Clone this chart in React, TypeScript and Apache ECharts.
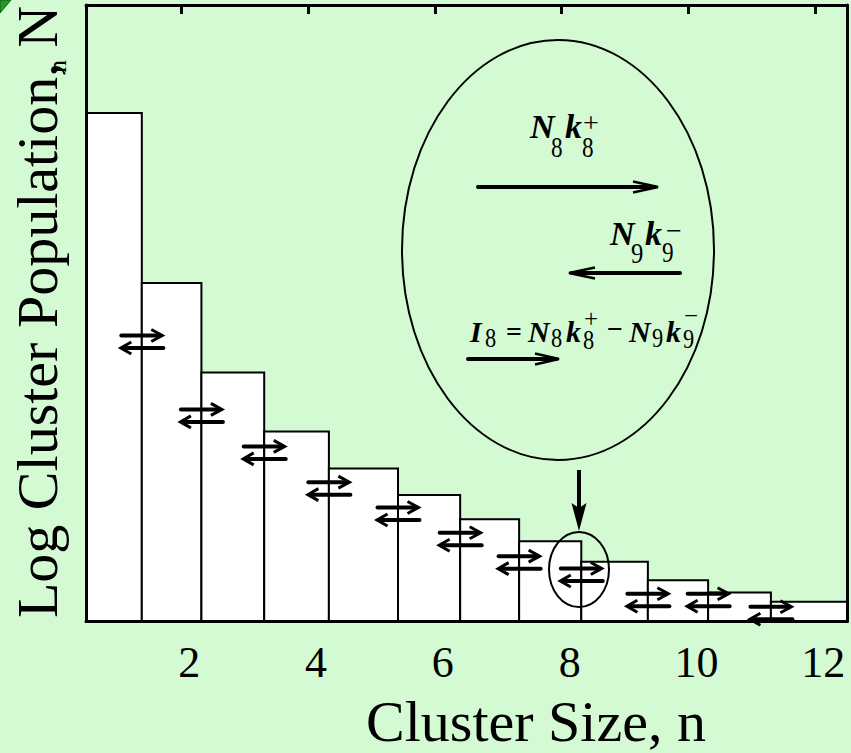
import React, { useEffect, useRef } from 'react';
import * as echarts from 'echarts';

// Histogram bins (cluster size n), edges in axis units
const binEdges = [0.5, 1.38, 2.32, 3.31, 4.33, 5.42, 6.4, 7.33, 8.31, 9.36, 10.31, 11.3, 12.5];
// Log cluster population (arbitrary units, 0..100 frame)
const logPopulation = [82.5, 54.9, 40.4, 30.8, 24.8, 20.5, 16.6, 13.0, 9.7, 6.7, 4.7, 3.2];
// Levels of the forward/backward exchange arrows at each bin boundary
const exchangeLevels = [46.4, 34.4, 28.4, 22.6, 18.5, 14.4, 10.6, 8.6, 4.5, 4.5, 2.4];
const xTickValues = [2, 4, 6, 8, 10, 12];

const SERIF = '"Liberation Serif", "Times New Roman", serif';
const BG = '#d4fad4';

type Glyph = [string, number, number, string, number, number?];
// inset formula glyphs: text, x, y, kind, size, scaleX
const formulaGlyphs: Glyph[] = [
  ['N', 530, 126, 'bi', 34],
  ['8', 551, 147.5, 'r', 29, 0.8],
  ['k', 565, 126, 'bi', 34],
  ['+', 583, 122, 'r', 28],
  ['8', 582, 148, 'r', 29, 0.8],

  ['N', 610, 233, 'bi', 34],
  ['9', 631, 253.5, 'r', 29, 0.85],
  ['k', 645, 233, 'bi', 34],
  ['\u2212', 666, 230, 'r', 28],
  ['9', 662, 253, 'r', 29, 0.8],

  ['I', 470, 331, 'bi', 30],
  ['8', 485, 337, 'r', 28, 0.8],
  ['=', 506, 331, 'b', 28],
  ['N', 528, 331, 'bi', 30],
  ['8', 551, 337, 'r', 28, 0.8],
  ['k', 566, 331, 'bi', 30],
  ['+', 584, 318.5, 'r', 25],
  ['8', 583, 339, 'r', 28, 0.8],
  ['\u2212', 607, 328, 'b', 28],
  ['N', 629, 331, 'bi', 30],
  ['9', 652, 337, 'r', 28, 0.8],
  ['k', 666, 331, 'bi', 30],
  ['\u2212', 684, 315, 'r', 25],
  ['9', 683, 338, 'r', 28, 0.8],
];

function fontOf(kind: string, size: number) {
  if (kind === 'bi') return `italic bold ${size}px ${SERIF}`;
  if (kind === 'b') return `bold ${size}px ${SERIF}`;
  return `${size}px ${SERIF}`;
}

function arrowGraphic(x1: number, x2: number, y: number, head: number, half: number) {
  const dir = x2 > x1 ? 1 : -1;
  return [
    { type: 'line', z: 50, shape: { x1, y1: y, x2: x2 - dir * 3, y2: y }, style: { stroke: '#000', lineWidth: 4, lineCap: 'round' } },
    {
      type: 'polyline', z: 50,
      shape: { points: [[x2 - dir * head, y - half], [x2, y], [x2 - dir * head, y + half]] },
      style: { stroke: '#000', lineWidth: 2.5, fill: 'none' },
    },
  ];
}

export default function App() {
  const ref = useRef<HTMLDivElement>(null);
  useEffect(() => {
    if (!ref.current) return;
    const chart = echarts.init(ref.current, undefined, { renderer: 'svg' });

    const barData = logPopulation.map((v, i) => [binEdges[i], binEdges[i + 1], v]);
    const arrowData = exchangeLevels.map((v, i) => [binEdges[i + 1], v]);

    const graphics: any[] = [
      { type: 'polygon', z: 50, shape: { points: [[0, 0], [11, 0], [0, 13]] }, style: { fill: '#249a24', stroke: '#0b5e0b', lineWidth: 1 } },
      {
        type: 'text', z: 50, x: 37.5, y: 312, rotation: Math.PI / 2,
        style: { text: 'Log Cluster Population, N', font: `58px ${SERIF}`, fill: '#000', textAlign: 'center', textVerticalAlign: 'middle' },
      },
      {
        type: 'text', z: 50, x: 57, y: 66.5, rotation: Math.PI / 2,
        style: { text: 'n', font: `26px ${SERIF}`, fill: '#000', textAlign: 'center', textVerticalAlign: 'middle', lineHeight: 16 },
      },
      {
        type: 'text', z: 50, x: 536, y: 721,
        style: { text: 'Cluster Size, n', font: `58px ${SERIF}`, fill: '#000', textAlign: 'center', textVerticalAlign: 'middle' },
      },
      { type: 'ellipse', z: 50, shape: { cx: 558, cy: 250, rx: 156, ry: 210 }, style: { fill: 'none', stroke: '#000', lineWidth: 2 } },
      { type: 'ellipse', z: 50, shape: { cx: 579, cy: 569.5, rx: 30, ry: 37.5 }, style: { fill: 'none', stroke: '#000', lineWidth: 2 } },
      { type: 'line', z: 50, shape: { x1: 579, y1: 470, x2: 579, y2: 508 }, style: { stroke: '#000', lineWidth: 4 } },
      { type: 'polygon', z: 50, shape: { points: [[571.5, 503], [579, 508], [586.5, 503], [579, 531]] }, style: { fill: '#000' } },
      ...arrowGraphic(478, 658, 187, 25, 5.5),
      ...arrowGraphic(680, 569, 273, 26, 5.5),
      ...arrowGraphic(468, 559, 359, 24, 5.5),
      ...formulaGlyphs.map(([t, x, y, k, s, sx]) => ({
        type: 'text', z: 50, x, y, scaleX: sx ?? 1,
        style: {
          text: t, font: fontOf(k, s), fill: '#000', textAlign: 'left', textVerticalAlign: 'middle',
          lineHeight: Math.round(s * 0.62),
        },
      })),
    ];

    const frameLine = { show: true, onZero: false, lineStyle: { color: '#000', width: 3 } };

    chart.setOption({
      animation: false,
      backgroundColor: BG,
      grid: { left: 86, right: 4, top: 5, bottom: 131.5, show: false },
      xAxis: [
        {
          type: 'value', min: 0.5, max: 12.5, position: 'bottom', z: 10,
          axisLine: frameLine,
          axisTick: { show: false },
          splitLine: { show: false },
          axisLabel: {
            customValues: xTickValues, margin: 19, color: '#000',
            fontSize: 44, fontFamily: SERIF, padding: [0, 0, 0, 16],
          },
        },
        {
          type: 'value', min: 0.5, max: 12.5, position: 'top', z: 10,
          axisLine: frameLine,
          axisTick: { show: true, inside: true, length: 9, lineStyle: { color: '#000', width: 3 }, customValues: xTickValues },
          splitLine: { show: false },
          axisLabel: { show: false },
        },
      ],
      yAxis: [
        {
          type: 'value', min: 0, max: 100, position: 'left', z: 10,
          axisLine: frameLine, axisTick: { show: false }, axisLabel: { show: false }, splitLine: { show: false },
        },
        {
          type: 'value', min: 0, max: 100, position: 'right', z: 10,
          axisLine: frameLine, axisTick: { show: false }, axisLabel: { show: false }, splitLine: { show: false },
        },
      ],
      series: [
        {
          type: 'custom', name: 'Log cluster population', xAxisIndex: 0, yAxisIndex: 0, z: 2,
          data: barData,
          encode: { x: [0, 1], y: 2 },
          renderItem: (_p: any, api: any) => {
            const p0 = api.coord([api.value(0), api.value(2)]);
            const p1 = api.coord([api.value(1), 0]);
            return {
              type: 'rect',
              shape: { x: p0[0], y: p0[1], width: p1[0] - p0[0], height: p1[1] - p0[1] },
              style: { fill: '#ffffff', stroke: '#000', lineWidth: 2 },
            };
          },
        },
        {
          type: 'custom', name: 'Exchange', xAxisIndex: 0, yAxisIndex: 0, z: 4, clip: false,
          data: arrowData,
          encode: { x: 0, y: 1 },
          renderItem: (_p: any, api: any) => {
            const c = api.coord([api.value(0), api.value(1)]);
            const cx = c[0], y1 = c[1], y2 = c[1] + 12.5;
            const L = 20.5;
            return {
              type: 'group',
              children: [
                { type: 'line', shape: { x1: cx - L, y1, x2: cx + L - 2, y2: y1 }, style: { stroke: '#000', lineWidth: 4, lineCap: 'round' } },
                { type: 'polyline', shape: { points: [[cx + L - 11, y1 - 6], [cx + L, y1], [cx + L - 11, y1 + 6]] }, style: { stroke: '#000', lineWidth: 3, fill: 'none' } },
                { type: 'line', shape: { x1: cx - L + 3, y1: y2, x2: cx + L + 1, y2 }, style: { stroke: '#000', lineWidth: 4, lineCap: 'round' } },
                { type: 'polyline', shape: { points: [[cx - L + 10, y2 - 6], [cx - L - 0.5, y2], [cx - L + 10, y2 + 6]] }, style: { stroke: '#000', lineWidth: 3, fill: 'none' } },
              ],
            };
          },
        },
      ],
      graphic: graphics,
    });
    return () => chart.dispose();
  }, []);
  return <div ref={ref} style={{ position: 'fixed', left: 0, top: 0, width: 851, height: 753 }} />;
}
